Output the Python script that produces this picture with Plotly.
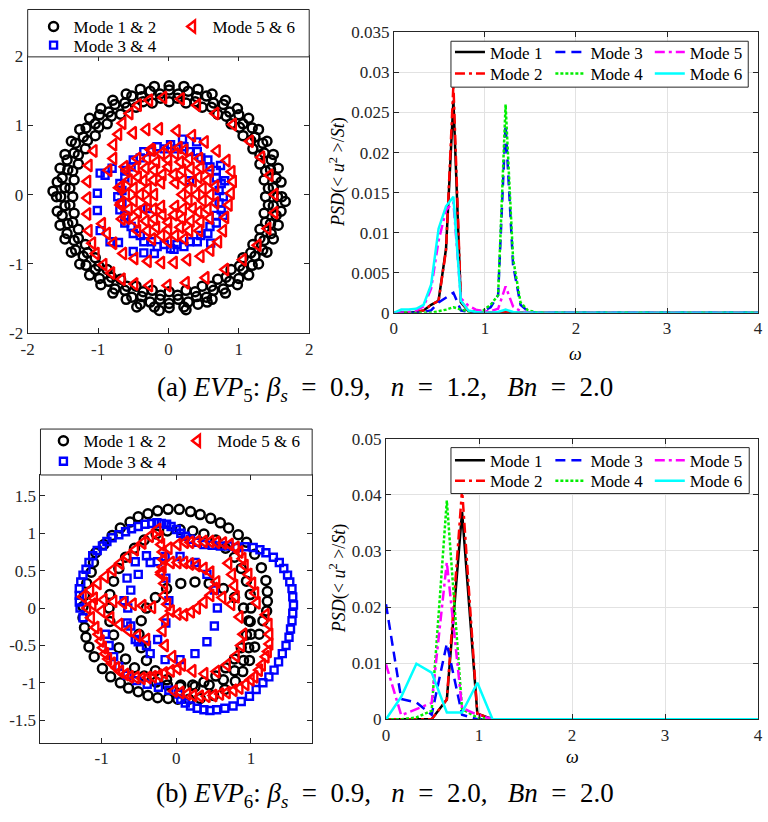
import plotly.graph_objects as go

W, H = 768, 822
FONT = "Liberation Serif"
AXC = "#262626"

# ---------------- PSD data ----------------
omega_a = [0, 0.082, 0.164, 0.245, 0.327, 0.409, 0.491, 0.573, 0.654, 0.736, 0.818,
           0.900, 0.982, 1.063, 1.145, 1.227, 1.309, 1.391, 1.472, 1.554, 1.636, 4.0]
psd_a_m1 = [0, 0, 0, 0.0001, 0.0003, 0.001, 0.0015, 0.008, 0.0265, 0.0013, 0.0002,
            0, 0, 0, 0, 0.0001, 0, 0, 0, 0, 0, 0]
psd_a_m2 = [0, 0, 0, 0.0001, 0.0003, 0.001, 0.0015, 0.0078, 0.0285, 0.0015, 0.0002,
            0, 0, 0, 0, 0.0001, 0, 0, 0, 0, 0, 0]
psd_a_m3 = [0, 0, 0, 0, 0.0001, 0.0003, 0.0013, 0.0019, 0.0025, 0.0003, 0.0001,
            0.0001, 0.0002, 0.0007, 0.0022, 0.0235, 0.006, 0.001, 0.0002, 0, 0, 0]
psd_a_m4 = [0, 0, 0, 0, 0, 0, 0.0002, 0.0004, 0.0007, 0.0004, 0.0002,
            0.0002, 0.0003, 0.001, 0.0022, 0.026, 0.0068, 0.0013, 0.0003, 0.0001, 0, 0]
psd_a_m5 = [0, 0, 0.0001, 0.0003, 0.0008, 0.003, 0.009, 0.0128, 0.0138, 0.0018, 0.0009,
            0.0004, 0.0002, 0.0002, 0.0005, 0.0033, 0.0008, 0.0002, 0, 0, 0, 0]
psd_a_m6 = [0, 0.0004, 0.0004, 0.0005, 0.001, 0.0035, 0.0105, 0.0133, 0.0145, 0.0015, 0.0003,
            0.0001, 0, 0, 0.0001, 0.0004, 0.0001, 0, 0, 0, 0, 0]

omega_b = [0, 0.164, 0.327, 0.491, 0.654, 0.818, 0.982, 1.145, 1.309, 4.0]
psd_b_m1 = [0, 0, 0, 0, 0.0035, 0.037, 0.001, 0, 0, 0]
psd_b_m2 = [0, 0, 0, 0, 0.0035, 0.041, 0.001, 0, 0, 0]
psd_b_m3 = [0.0205, 0.0036, 0.003, 0.0008, 0.0135, 0.0008, 0, 0, 0, 0]
psd_b_m4 = [0, 0, 0.0003, 0.0015, 0.039, 0.0018, 0.0003, 0, 0, 0]
psd_b_m5 = [0.0098, 0.0007, 0.0018, 0.0029, 0.028, 0.002, 0.0008, 0, 0, 0]
psd_b_m6 = [0, 0.004, 0.0099, 0.0083, 0.0012, 0.0012, 0.0065, 0, 0, 0]

# ---------------- phase portrait points ----------------
pp_a_m12 = [
    (1.38, -0.03), (1.36, 0.21), (1.30, 0.44), (1.20, 0.66), (1.06, 0.85), (0.89, 1.02), (0.70, 1.16),
    (0.48, 1.26), (0.25, 1.32), (0.01, 1.34), (-0.23, 1.32), (-0.46, 1.26), (-0.68, 1.16), (-0.87, 1.02),
    (-1.04, 0.85), (-1.18, 0.66), (-1.28, 0.44), (-1.34, 0.21), (-1.36, -0.03), (-1.34, -0.27), (-1.28, -0.50),
    (-1.18, -0.72), (-1.04, -0.91), (-0.87, -1.08), (-0.68, -1.22), (-0.46, -1.32), (-0.23, -1.38), (0.01, -1.40),
    (0.25, -1.38), (0.48, -1.32), (0.70, -1.22), (0.89, -1.08), (1.06, -0.91), (1.20, -0.72), (1.30, -0.50),
    (1.36, -0.27),
    (1.42, 0.09), (1.38, 0.34), (1.30, 0.57), (1.17, 0.78), (1.01, 0.97), (0.82, 1.13), (0.61, 1.26),
    (0.38, 1.34), (0.13, 1.39), (-0.11, 1.39), (-0.36, 1.34), (-0.59, 1.26), (-0.81, 1.13), (-0.99, 0.97),
    (-1.15, 0.78), (-1.28, 0.57), (-1.36, 0.34), (-1.40, 0.09), (-1.40, -0.15), (-1.36, -0.40), (-1.28, -0.63),
    (-1.15, -0.84), (-0.99, -1.03), (-0.81, -1.19), (-0.59, -1.32), (-0.36, -1.40), (-0.11, -1.45), (0.13, -1.45),
    (0.38, -1.40), (0.61, -1.32), (0.82, -1.19), (1.01, -1.03), (1.17, -0.84), (1.30, -0.63), (1.38, -0.40),
    (1.42, -0.15),
    (1.49, 0.10), (1.45, 0.36), (1.36, 0.60), (1.23, 0.83), (1.06, 1.02), (0.87, 1.19), (0.64, 1.32),
    (0.40, 1.41), (0.14, 1.45), (-0.12, 1.45), (-0.38, 1.41), (-0.62, 1.32), (-0.85, 1.19), (-1.04, 1.02),
    (-1.21, 0.83), (-1.34, 0.60), (-1.43, 0.36), (-1.47, 0.10), (-1.47, -0.16), (-1.43, -0.42), (-1.34, -0.66),
    (-1.21, -0.89), (-1.04, -1.08), (-0.85, -1.25), (-0.62, -1.38), (-0.38, -1.47), (-0.12, -1.51), (0.14, -1.51),
    (0.40, -1.47), (0.64, -1.38), (0.87, -1.25), (1.06, -1.08), (1.23, -0.89), (1.36, -0.66), (1.45, -0.42),
    (1.49, -0.16),
    (1.55, -0.03), (1.53, 0.24), (1.46, 0.50), (1.34, 0.74), (1.19, 0.96), (1.00, 1.15), (0.78, 1.30),
    (0.54, 1.42), (0.28, 1.49), (0.01, 1.51), (-0.26, 1.49), (-0.52, 1.42), (-0.76, 1.30), (-0.98, 1.15),
    (-1.17, 0.96), (-1.32, 0.74), (-1.44, 0.50), (-1.51, 0.24), (-1.53, -0.03), (-1.51, -0.30), (-1.44, -0.56),
    (-1.32, -0.80), (-1.17, -1.02), (-0.98, -1.21), (-0.76, -1.36), (-0.52, -1.48), (-0.26, -1.55), (0.01, -1.57),
    (0.28, -1.55), (0.54, -1.48), (0.78, -1.36), (1.00, -1.21), (1.19, -1.02), (1.34, -0.80), (1.46, -0.56),
    (1.53, -0.30),
    (1.61, -0.03), (1.60, 0.18), (1.56, 0.38), (1.49, 0.58), (1.40, 0.77), (1.28, 0.94), (1.14, 1.10),
    (0.98, 1.24), (0.81, 1.36), (0.62, 1.45), (0.42, 1.52), (0.22, 1.56), (0.01, 1.57), (-0.20, 1.56),
    (-0.40, 1.52), (-0.60, 1.45), (-0.79, 1.36), (-0.96, 1.24), (-1.12, 1.10), (-1.26, 0.94), (-1.38, 0.77),
    (-1.47, 0.58), (-1.54, 0.38), (-1.58, 0.18), (-1.59, -0.03), (-1.58, -0.24), (-1.54, -0.44), (-1.47, -0.64),
    (-1.38, -0.83), (-1.26, -1.00), (-1.12, -1.16), (-0.96, -1.30), (-0.79, -1.42), (-0.60, -1.51), (-0.40, -1.58),
    (-0.20, -1.62), (0.01, -1.63), (0.22, -1.62), (0.42, -1.58), (0.62, -1.51), (0.81, -1.42), (0.98, -1.30),
    (1.14, -1.16), (1.28, -1.00), (1.40, -0.83), (1.49, -0.64), (1.56, -0.44), (1.60, -0.24),
    (-0.13, -1.67), (0.25, -1.66), (-1.64, 0.05), (1.66, -0.10), (-0.45, -1.62), (0.55, -1.55),
]

pp_a_m34 = [
    (0.78, -0.03), (0.75, 0.16), (0.68, 0.35), (0.56, 0.50), (0.41, 0.62), (0.22, 0.69), (0.03, 0.72),
    (-0.16, 0.69), (-0.35, 0.62), (-0.50, 0.50), (-0.62, 0.35), (-0.69, 0.16), (-0.72, -0.03), (-0.69, -0.22),
    (-0.62, -0.41), (-0.50, -0.56), (-0.35, -0.68), (-0.16, -0.75), (0.03, -0.78), (0.22, -0.75), (0.41, -0.68),
    (0.56, -0.56), (0.68, -0.41), (0.75, -0.22),
    (0.72, 0.06), (0.68, 0.24), (0.59, 0.40), (0.46, 0.53), (0.30, 0.62), (0.12, 0.66), (-0.06, 0.66),
    (-0.24, 0.62), (-0.40, 0.53), (-0.53, 0.40), (-0.62, 0.24), (-0.66, 0.06), (-0.66, -0.12), (-0.62, -0.30),
    (-0.53, -0.46), (-0.40, -0.59), (-0.24, -0.68), (-0.06, -0.72), (0.12, -0.72), (0.30, -0.68), (0.46, -0.59),
    (0.59, -0.46), (0.68, -0.30), (0.72, -0.12),
    (0.20, 0.80), (0.40, 0.76), (0.74, 0.42), (0.80, 0.20), (0.78, -0.30), (0.60, -0.70),
    (-0.97, 0.31), (-1.01, 0.02), (-1.01, -0.23), (-0.97, -0.52), (-0.83, -0.68), (-0.71, -0.69),
    (-0.50, -0.82), (-0.20, -0.85), (0.08, -0.79), (-0.90, 0.28), (-0.80, 0.38), (-0.35, -0.84),
    (0.30, 0.20), (-0.30, -0.20),
]

pp_a_m56 = [
    (-0.43, 1.29), (-0.27, 1.36), (-0.07, 1.40), (0.18, 1.38), (0.41, 1.29), (0.67, 1.17), (0.92, 1.01),
    (1.16, 0.77), (1.32, 0.54), (1.44, 0.28), (1.51, 0.00), (1.51, -0.26), (1.41, -0.49), (1.27, -0.73),
    (1.06, -0.94), (0.81, -1.08), (0.53, -1.20), (0.25, -1.27), (-0.01, -1.31), (-0.27, -1.31), (-0.48, -1.29),
    (-0.66, -1.22), (-0.81, -1.13), (-0.92, -1.01), (-1.03, -0.85), (-1.08, -0.70), (-1.13, -0.52), (-1.15, -0.28),
    (-1.15, -0.05), (-1.15, 0.19), (-1.13, 0.42), (-1.06, 0.63), (-0.55, 1.17), (-0.65, 1.03),
    (-0.71, 0.87), (-0.50, 0.89), (-0.31, 0.94), (-0.13, 0.95), (0.12, 0.92), (0.34, 0.85), (0.52, 0.76),
    (0.69, 0.63), (0.83, 0.49), (0.90, 0.33), (0.92, 0.19), (0.89, 0.02), (0.86, -0.15), (0.81, -0.33),
    (0.78, -0.52), (0.71, -0.68), (0.60, -0.80), (0.46, -0.89), (0.27, -0.94), (0.08, -0.98), (-0.10, -0.98),
    (-0.29, -0.96), (-0.48, -0.92), (-0.64, -0.85), (-0.78, -0.70), (-0.87, -0.56), (-0.94, -0.42),
    (-0.78, 0.72), (-0.78, 0.52), (-0.85, 0.35),
    (0.67, 0.12), (0.59, 0.34), (0.44, 0.52), (0.23, 0.64), (0.00, 0.68), (-0.23, 0.64), (-0.44, 0.52),
    (-0.59, 0.34), (-0.67, 0.12), (-0.67, -0.12), (-0.59, -0.34), (-0.44, -0.52), (-0.23, -0.64), (0.00, -0.68),
    (0.23, -0.64), (0.44, -0.52), (0.59, -0.34), (0.67, -0.12),
    (0.60, 0.00), (0.56, 0.21), (0.46, 0.39), (0.30, 0.52), (0.10, 0.59), (-0.10, 0.59), (-0.30, 0.52),
    (-0.46, 0.39), (-0.56, 0.21), (-0.60, 0.00), (-0.56, -0.21), (-0.46, -0.39), (-0.30, -0.52), (-0.10, -0.59),
    (0.10, -0.59), (0.30, -0.52), (0.46, -0.39), (0.56, -0.21),
    (0.49, 0.09), (0.43, 0.25), (0.32, 0.38), (0.17, 0.47), (0.00, 0.50), (-0.17, 0.47), (-0.32, 0.38),
    (-0.43, 0.25), (-0.49, 0.09), (-0.49, -0.09), (-0.43, -0.25), (-0.32, -0.38), (-0.17, -0.47), (0.00, -0.50),
    (0.17, -0.47), (0.32, -0.38), (0.43, -0.25), (0.49, -0.09),
    (0.40, 0.00), (0.35, 0.20), (0.20, 0.35), (0.00, 0.40), (-0.20, 0.35), (-0.35, 0.20), (-0.40, 0.00),
    (-0.35, -0.20), (-0.20, -0.35), (0.00, -0.40), (0.20, -0.35), (0.35, -0.20),
    (0.29, 0.08), (0.21, 0.21), (0.08, 0.29), (-0.08, 0.29), (-0.21, 0.21), (-0.29, 0.08), (-0.29, -0.08),
    (-0.21, -0.21), (-0.08, -0.29), (0.08, -0.29), (0.21, -0.21), (0.29, -0.08),
    (0.20, 0.00), (0.10, 0.17), (-0.10, 0.17), (-0.20, 0.00), (-0.10, -0.17), (0.10, -0.17),
    (-0.70, 0.10), (-0.68, -0.15), (0.15, 0.68), (-0.25, 0.65), (-0.62, 0.40), (-0.66, -0.35),
]

pp_b_m12 = [
    (-1.08, 0.74), (-0.97, 0.85), (-0.86, 0.97), (-0.75, 1.07), (-0.62, 1.15), (-0.51, 1.22), (-0.38, 1.26),
    (-0.25, 1.30), (-0.11, 1.32), (0.04, 1.32), (0.19, 1.29), (0.32, 1.25), (0.46, 1.20), (0.59, 1.14),
    (0.70, 1.07), (0.83, 0.98), (0.94, 0.88), (1.05, 0.72), (1.14, 0.54), (1.20, 0.37), (1.22, 0.22),
    (1.22, 0.09), (1.21, -0.04), (1.16, -0.17), (1.11, -0.35), (1.05, -0.52), (0.98, -0.70), (0.89, -0.85),
    (0.79, -0.98), (0.65, -1.09), (0.50, -1.17), (0.32, -1.21), (0.17, -1.22), (0.02, -1.22), (-0.11, -1.21),
    (-0.25, -1.20), (-0.38, -1.17), (-0.51, -1.12), (-0.64, -1.07), (-0.75, -1.00), (-0.88, -0.92), (-0.99, -0.81),
    (-1.10, -0.65), (-1.17, -0.52), (-1.21, -0.39), (-1.23, -0.26), (-1.25, -0.13), (-1.25, 0.02), (-1.23, 0.17),
    (-1.20, 0.33), (-1.14, 0.48), (-1.11, 0.61),
    (1.00, 0.00), (0.99, 0.18), (0.94, 0.36), (0.87, 0.53), (0.78, 0.68), (0.66, 0.80), (0.53, 0.91),
    (0.37, 0.99), (0.22, 1.03), (0.05, 1.05), (-0.12, 1.03), (-0.27, 0.99), (-0.43, 0.91), (-0.56, 0.80),
    (-0.68, 0.68), (-0.77, 0.53), (-0.84, 0.36), (-0.89, 0.18), (-0.90, 0.00), (-0.89, -0.18), (-0.84, -0.36),
    (-0.77, -0.53), (-0.68, -0.68), (-0.56, -0.80), (-0.43, -0.91), (-0.27, -0.99), (-0.12, -1.03), (0.05, -1.05),
    (0.22, -1.03), (0.37, -0.99), (0.53, -0.91), (0.66, -0.80), (0.78, -0.68), (0.87, -0.53), (0.94, -0.36),
    (0.99, -0.18),
    (1.00, -0.35), (0.97, -0.17), (0.90, 0.00), (0.78, 0.14), (0.63, 0.26), (0.44, 0.33), (0.25, 0.35),
    (0.06, 0.33), (-0.13, 0.26), (-0.28, 0.14), (-0.40, 0.00), (-0.47, -0.17), (-0.50, -0.35), (-0.47, -0.53),
    (-0.40, -0.70), (-0.28, -0.84), (-0.13, -0.96), (0.06, -1.03), (0.25, -1.05), (0.44, -1.03), (0.63, -0.96),
    (0.78, -0.84), (0.90, -0.70), (0.97, -0.53),
]

pp_b_m34 = [
    (0.59, 0.83), (0.70, 0.83), (0.81, 0.81), (0.92, 0.82), (1.03, 0.81), (1.12, 0.78), (1.20, 0.74),
    (1.30, 0.68), (1.38, 0.61), (1.44, 0.53), (1.49, 0.44), (1.52, 0.35), (1.55, 0.26), (1.56, 0.15),
    (1.57, 0.04), (1.56, -0.07), (1.55, -0.17), (1.53, -0.28), (1.51, -0.39), (1.47, -0.50), (1.42, -0.61),
    (1.37, -0.72), (1.31, -0.83), (1.24, -0.92), (1.16, -1.00), (1.07, -1.09), (0.98, -1.18), (0.87, -1.25),
    (0.76, -1.31), (0.65, -1.34), (0.54, -1.36), (0.45, -1.37), (0.37, -1.36), (0.28, -1.34), (0.19, -1.31),
    (0.12, -1.27), (0.06, -1.22),
    (-1.25, -0.13), (-1.29, 0.00), (-1.30, 0.08), (-1.30, 0.17), (-1.30, 0.26), (-1.28, 0.35), (-1.25, 0.44),
    (-1.21, 0.52), (-1.17, 0.61), (-1.12, 0.70), (-1.06, 0.77), (-0.99, 0.83), (-0.93, 0.89), (-0.86, 0.94),
    (-0.77, 0.98), (-0.68, 1.02), (-0.60, 1.06), (-0.51, 1.09), (-0.42, 1.12), (-0.33, 1.13), (-0.26, 1.14),
    (-0.20, 1.13), (-0.13, 1.12), (-0.07, 1.09), (0.00, 1.05), (0.06, 1.00), (0.12, 0.96), (0.19, 0.92),
    (0.28, 0.88), (0.37, 0.85), (0.48, 0.84),
    (-0.95, -0.35), (-0.90, -0.50), (-0.84, -0.65), (-0.77, -0.78), (-0.66, -0.90), (-0.53, -0.97),
    (-0.39, -1.02), (-0.24, -1.06), (-0.10, -1.10), (0.03, -1.15),
    (0.55, 0.00), (0.51, 0.24), (0.41, 0.45), (0.25, 0.61), (0.05, 0.69), (-0.15, 0.69), (-0.35, 0.61),
    (-0.51, 0.45), (-0.61, 0.24), (-0.65, 0.00), (-0.61, -0.24), (-0.51, -0.45), (-0.35, -0.61), (-0.15, -0.69),
    (0.05, -0.69), (0.25, -0.61), (0.41, -0.45), (0.51, -0.24),
    (-0.10, 0.10), (-0.14, 0.40), (-0.25, 0.62), (-0.40, 0.70), (-0.55, 0.62), (-0.66, 0.40), (-0.70, 0.10),
    (-0.66, -0.20), (-0.55, -0.42), (-0.40, -0.50), (-0.25, -0.42), (-0.14, -0.20),
]

pp_b_m56 = [
    (-1.25, 0.15), (-1.15, 0.24), (-1.05, 0.33), (-0.95, 0.42), (-0.85, 0.51), (-0.75, 0.60), (-0.65, 0.69),
    (-0.55, 0.78), (-0.45, 0.87), (-0.35, 0.96), (-0.25, 1.05),
    (-0.22, 0.95), (-0.20, 0.85), (-0.18, 0.75), (-0.17, 0.65), (-0.18, 0.55), (-0.20, 0.45),
    (-0.10, 0.80), (0.02, 0.85), (0.12, 0.88), (0.19, 0.88), (0.28, 0.89), (0.37, 0.89), (0.46, 0.89),
    (0.54, 0.88), (0.63, 0.87), (0.72, 0.85), (0.80, 0.81), (0.85, 0.75), (0.89, 0.66), (0.92, 0.57),
    (0.97, 0.45), (1.02, 0.33), (1.06, 0.20), (1.08, 0.07),
    (1.20, -0.09), (1.24, -0.22), (1.25, -0.35), (1.25, -0.48), (1.23, -0.58), (1.20, -0.65), (1.15, -0.76),
    (1.11, -0.83), (1.05, -0.92), (1.00, -0.96), (0.93, -1.02), (0.85, -1.07), (0.77, -1.10), (0.68, -1.13),
    (0.59, -1.15), (0.50, -1.17), (0.41, -1.18), (0.32, -1.18), (0.23, -1.17), (0.15, -1.15), (0.06, -1.13),
    (-0.03, -1.11),
    (-1.19, 0.00), (-1.14, -0.13), (-1.08, -0.26), (-1.04, -0.35), (-1.01, -0.44), (-0.98, -0.53), (-0.95, -0.61),
    (-0.91, -0.68), (-0.86, -0.74), (-0.80, -0.80), (-0.75, -0.85), (-0.68, -0.89), (-0.62, -0.92), (-0.54, -0.93),
    (-0.46, -0.94), (-0.38, -0.93), (-0.31, -0.92), (-0.23, -0.90), (-0.16, -0.87), (-0.07, -0.84), (0.02, -0.81),
    (-1.10, 0.13), (-0.97, 0.11), (-0.84, 0.09), (-0.71, 0.07), (-0.58, 0.05), (-0.45, 0.03), (-0.32, 0.01),
    (-1.12, 0.05), (-1.00, -0.04), (-0.88, -0.13), (-0.76, -0.22), (-0.64, -0.30), (-0.52, -0.37), (-0.40, -0.42),
    (-0.20, 0.48), (-0.16, 0.33), (-0.16, 0.17), (-0.12, 0.05), (-0.07, -0.04), (0.02, -0.08), (0.11, -0.09),
    (0.20, -0.05), (0.28, 0.00), (0.37, 0.08), (0.46, 0.17), (0.51, 0.26), (0.54, 0.35), (0.46, 0.48),
    (0.37, 0.53), (0.28, 0.57), (0.19, 0.59), (0.11, 0.61), (0.02, 0.61), (-0.07, 0.61),
    (0.90, -0.35), (0.85, -0.12), (0.74, 0.05), (0.62, 0.14), (-0.15, -0.15), (-0.18, -0.30), (-0.15, -0.50),
    (-0.05, -0.65), (0.08, -0.76), (0.22, -0.84), (0.38, -0.88), (0.54, -0.85), (0.68, -0.76), (0.80, -0.64),
    (0.87, -0.50),
    (0.70, 0.60), (0.75, 0.45), (0.78, 0.30), (0.80, 0.15),
]

# tick labels
tl_ticks = [-2, -1, 0, 1, 2]
tl_text = ["-2", "-1", "0", "1", "2"]
bl_xticks = [-1, 0, 1]
bl_xtext = ["-1", "0", "1"]
bl_yticks = [-1.5, -1, -0.5, 0, 0.5, 1, 1.5]
bl_ytext = ["-1.5", "-1", "-0.5", "0", "0.5", "1", "1.5"]

mode_names = ["Mode 1", "Mode 2", "Mode 3", "Mode 4", "Mode 5", "Mode 6"]
mode_colors = ["#000000", "#ff0000", "#0000ff", "#00ee00", "#ff00ff", "#00ffff"]
mode_dash = ["solid", "10px,4px,3px,4px", "10px,6px", "3px,2px", "10px,4px,3px,4px", "solid"]


def px(v):
    return v / W


def py(v):
    return 1 - v / H


fig = go.Figure()


def add_pp(points, symbol, color, name, xa, ya, leg, size, lw):
    xs = [p[0] for p in points]
    ys = [p[1] for p in points]
    fig.add_trace(go.Scatter(
        x=xs, y=ys, mode="markers", name=name, xaxis=xa, yaxis=ya, legend=leg,
        marker=dict(symbol=symbol, size=size, color=color, line=dict(width=lw, color=color)),
    ))


# top-left (legend entries: each in its own legend so rows can be placed freely)
add_pp(pp_a_m12, "circle-open", "#000000", "Mode 1 & 2", "x", "y", "legend", 9, 2.5)
add_pp(pp_a_m34, "square-open", "#0000ff", "Mode 3 & 4", "x", "y", "legend11", 7, 2.4)
add_pp(pp_a_m56, "triangle-left-open", "#ff0000", "Mode 5 & 6", "x", "y", "legend2", 10.5, 2.4)

# bottom-left
add_pp(pp_b_m12, "circle-open", "#000000", "Mode 1 & 2", "x3", "y3", "legend6", 9, 2.5)
add_pp(pp_b_m34, "square-open", "#0000ff", "Mode 3 & 4", "x3", "y3", "legend15", 7, 2.4)
add_pp(pp_b_m56, "triangle-left-open", "#ff0000", "Mode 5 & 6", "x3", "y3", "legend7", 10.5, 2.4)

psd_a = [psd_a_m1, psd_a_m2, psd_a_m3, psd_a_m4, psd_a_m5, psd_a_m6]
psd_b = [psd_b_m1, psd_b_m2, psd_b_m3, psd_b_m4, psd_b_m5, psd_b_m6]
legs_a = ["legend3", "legend12", "legend4", "legend13", "legend5", "legend14"]
legs_b = ["legend8", "legend16", "legend9", "legend17", "legend10", "legend18"]

for i in range(6):
    fig.add_trace(go.Scatter(
        x=omega_a, y=psd_a[i], mode="lines", name=mode_names[i], xaxis="x2", yaxis="y2",
        legend=legs_a[i], line=dict(color=mode_colors[i], width=2.5, dash=mode_dash[i]),
    ))
for i in range(6):
    fig.add_trace(go.Scatter(
        x=omega_b, y=psd_b[i], mode="lines", name=mode_names[i], xaxis="x4", yaxis="y4",
        legend=legs_b[i], line=dict(color=mode_colors[i], width=2.5, dash=mode_dash[i]),
    ))

tickfont = dict(family=FONT, size=17, color="#262626")


def ax(domain, anchor, rng, grid=False, **kw):
    d = dict(domain=domain, anchor=anchor, range=rng, showline=True, linecolor=AXC, linewidth=1,
             mirror="ticks", ticks="inside", ticklen=5, tickcolor=AXC, tickfont=tickfont,
             zeroline=False, showgrid=grid, gridcolor="#e2e2e2", gridwidth=1)
    d.update(kw)
    return d


fig.update_layout(
    width=W, height=H, margin=dict(l=0, r=0, t=0, b=0),
    paper_bgcolor="white", plot_bgcolor="white",
    xaxis=ax([px(21), px(307)], "y", [-2, 2], tickvals=tl_ticks, ticktext=tl_text),
    yaxis=ax([py(332), py(48)], "x", [-2, 2], tickvals=tl_ticks, ticktext=tl_text),
    xaxis2=ax([px(393), px(763)], "y2", [0, 4], grid=True, dtick=1),
    yaxis2=ax([py(311), py(24)], "x2", [0, 0.035], grid=True, dtick=0.005),
    xaxis3=ax([px(34), px(310)], "y3", [-1.82, 1.82], tickvals=bl_xticks, ticktext=bl_xtext),
    yaxis3=ax([py(751), py(477)], "x3", [-1.8, 1.78], tickvals=bl_yticks, ticktext=bl_ytext),
    xaxis4=ax([px(385), px(763)], "y4", [0, 4], grid=True, dtick=1),
    yaxis4=ax([py(727), py(440)], "x4", [0, 0.05], grid=True, dtick=0.01),
    showlegend=True,
)

legfont = dict(family=FONT, size=17, color="#000000")


def leg(x, ytop):
    return dict(x=px(x), y=py(ytop), xanchor="left", yanchor="top", orientation="v",
                bgcolor="rgba(0,0,0,0)", borderwidth=0, font=legfont)


fig.update_layout(
    legend=leg(27, 0), legend2=leg(168, 0), legend11=leg(27, 19),
    legend3=leg(450, 26), legend4=leg(552, 26), legend5=leg(653, 26),
    legend12=leg(450, 48), legend13=leg(552, 48), legend14=leg(653, 48),
    legend6=leg(37, 424), legend7=leg(173, 424), legend15=leg(37, 445),
    legend8=leg(450, 444), legend9=leg(552, 444), legend10=leg(653, 444),
    legend16=leg(450, 465), legend17=leg(552, 465), legend18=leg(653, 465),
)

# legend boxes
for (x0, y0, x1, y1) in [(21, 0.5, 307, 49), (451, 33, 753, 80), (34, 430, 310, 477), (451, 449, 754, 496)]:
    fig.add_shape(type="rect", xref="paper", yref="paper", x0=px(x0), x1=px(x1), y0=py(y1), y1=py(y0),
                  line=dict(color=AXC, width=1), fillcolor="white", layer="above")

ann_font = dict(family=FONT, size=18, color="#000000")
ytitle = "<i>PSD</i>(&lt; <i>u</i><sup>2</sup> &gt;/<i>St</i>)"
cap_font = dict(family=FONT, size=27, color="#000000")
SP = "&nbsp;"
annotations = [
    dict(x=px(336), y=py(167), text=ytitle, textangle=-90, font=ann_font),
    dict(x=px(336), y=py(583), text=ytitle, textangle=-90, font=ann_font),
    dict(x=px(578), y=py(353), text="<i>ω</i>", font=ann_font),
    dict(x=px(574), y=py(766), text="<i>ω</i>", font=ann_font),
    dict(x=0.5, y=py(389),
         text=f"(a) <i>EVP</i><sub>5</sub>: <i>β<sub>s</sub></i>{SP*2}={SP*2}0.9,{SP*3}<i>n</i>{SP*2}={SP*2}1.2,"
              f"{SP*3}<i>Bn</i>{SP*2}={SP*2}2.0",
         font=cap_font),
    dict(x=0.5, y=py(805),
         text=f"(b) <i>EVP</i><sub>6</sub>: <i>β<sub>s</sub></i>{SP*2}={SP*2}0.9,{SP*3}<i>n</i>{SP*2}={SP*2}2.0,"
              f"{SP*3}<i>Bn</i>{SP*2}={SP*2}2.0",
         font=cap_font),
]
for a in annotations:
    a.update(xref="paper", yref="paper", showarrow=False, xanchor="center", yanchor="middle")
fig.update_layout(annotations=annotations)

fig.write_html("out.html")
